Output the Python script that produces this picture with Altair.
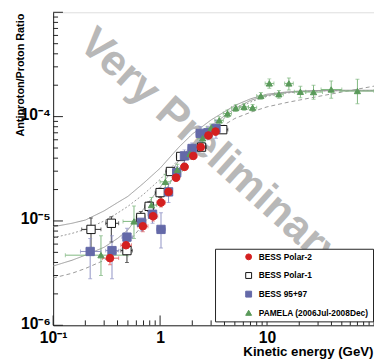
import altair as alt
import pandas as pd

# ---------------- data ----------------
series_names = ["BESS Polar-2", "BESS Polar-1", "BESS 95+97", "PAMELA (2006Jul-2008Dec)"]

p2_x = [0.34, 0.48, 0.69, 0.86, 1.02, 1.2, 1.41, 1.69, 2.04, 2.4, 2.83, 3.3]
p2_y = [4.4e-6, 5.85e-6, 8.9e-6, 1.11e-5, 1.5e-5, 1.9e-5, 2.6e-5, 3.3e-5, 4.2e-5, 5.1e-5, 6.6e-5, 7.2e-5]
p2_xlo = [0.29, 0.43, 0.62, 0.78, 0.93, 1.1, 1.3, 1.55, 1.87, 2.2, 2.6, 3.05]
p2_xhi = [0.41, 0.54, 0.77, 0.95, 1.12, 1.3, 1.53, 1.84, 2.22, 2.62, 3.07, 3.6]
p2_ylo = [3.8e-6, 5.1e-6, 7.9e-6, 1.0e-5, 1.36e-5, 1.74e-5, 2.4e-5, 3.05e-5, 3.9e-5, 4.75e-5, 6.1e-5, 6.6e-5]
p2_yhi = [5.1e-6, 6.7e-6, 1.0e-5, 1.23e-5, 1.65e-5, 2.07e-5, 2.82e-5, 3.57e-5, 4.5e-5, 5.5e-5, 7.1e-5, 7.8e-5]

p1_x = [0.226, 0.35, 0.49, 0.66, 0.79, 1.0, 1.25, 1.56, 2.44, 3.85]
p1_y = [8.3e-6, 9.5e-6, 5.2e-6, 1.08e-5, 1.38e-5, 1.87e-5, 2.98e-5, 4.15e-5, 5.1e-5, 7.5e-5]
p1_xlo = [0.185, 0.31, 0.43, 0.6, 0.72, 0.9, 1.13, 1.42, 2.2, 3.5]
p1_xhi = [0.28, 0.41, 0.55, 0.72, 0.87, 1.1, 1.38, 1.7, 2.7, 4.3]
p1_ylo = [5.4e-6, 6.3e-6, 4.0e-6, 9.4e-6, 1.23e-5, 1.68e-5, 2.75e-5, 3.85e-5, 4.8e-5, 7.1e-5]
p1_yhi = [1.07e-5, 1.1e-5, 5.9e-6, 1.23e-5, 1.53e-5, 2.06e-5, 3.2e-5, 4.45e-5, 5.4e-5, 7.9e-5]

b9_x = [0.222, 0.355, 0.49, 0.67, 0.85, 1.02, 1.2, 1.43, 1.69, 1.99, 2.37, 2.8, 3.33]
b9_y = [5.1e-6, 5.2e-6, 7.0e-6, 9.7e-6, 1.16e-5, 8.3e-6, 1.9e-5, 2.9e-5, 4.2e-5, 4.95e-5, 6.9e-5, 7.0e-5, 7.7e-5]
b9_xlo = [0.18, 0.31, 0.44, 0.6, 0.77, 0.93, 1.1, 1.3, 1.55, 1.82, 2.17, 2.56, 3.05]
b9_xhi = [0.28, 0.41, 0.55, 0.74, 0.93, 1.12, 1.3, 1.56, 1.85, 2.18, 2.6, 3.05, 3.65]
b9_ylo = [2.8e-6, 2.8e-6, 5.6e-6, 8.0e-6, 9.5e-6, 5.5e-6, 1.5e-5, 2.5e-5, 3.6e-5, 4.3e-5, 5.8e-5, 6.0e-5, 6.2e-5]
b9_yhi = [6.8e-6, 7.2e-6, 8.5e-6, 1.15e-5, 1.4e-5, 1.2e-5, 2.3e-5, 3.3e-5, 4.8e-5, 5.6e-5, 8.0e-5, 8.1e-5, 9.3e-5]

pm_x = [0.28, 0.57, 0.83, 1.12, 1.45, 1.9, 2.5, 3.0, 3.57, 4.27, 5.1, 6.1, 7.33, 8.75, 10.5, 12.9, 16.0, 20.5, 27.2, 39.8, 70.0]
pm_y = [4.7e-6, 9.9e-6, 1.42e-5, 2.37e-5, 3.1e-5, 4.4e-5, 6.2e-5, 7.8e-5, 9.2e-5, 1.07e-4, 1.21e-4, 1.24e-4, 1.22e-4, 1.58e-4, 2.08e-4, 1.64e-4, 2.08e-4, 1.73e-4, 1.72e-4, 1.82e-4, 1.76e-4]
pm_xlo = [0.13, 0.45, 0.74, 1.0, 1.3, 1.7, 2.25, 2.7, 3.25, 3.9, 4.65, 5.55, 6.7, 8.0, 9.6, 11.8, 14.6, 18.0, 23.0, 32.0, 48.0]
pm_xhi = [0.5, 0.71, 0.93, 1.25, 1.62, 2.12, 2.78, 3.3, 3.9, 4.65, 5.55, 6.7, 8.0, 9.6, 11.6, 14.2, 17.6, 23.0, 33.0, 50.0, 100.0]
pm_ylo = [3.0e-6, 6.8e-6, 1.2e-5, 2.0e-5, 2.7e-5, 3.9e-5, 5.6e-5, 7.1e-5, 8.4e-5, 9.8e-5, 1.12e-4, 1.15e-4, 1.13e-4, 1.47e-4, 1.87e-4, 1.5e-4, 1.8e-4, 1.52e-4, 1.47e-4, 1.5e-4, 1.33e-4]
pm_yhi = [7.2e-6, 1.39e-5, 1.68e-5, 2.8e-5, 3.5e-5, 4.9e-5, 6.8e-5, 8.5e-5, 1.0e-4, 1.16e-4, 1.3e-4, 1.33e-4, 1.31e-4, 1.7e-4, 2.3e-4, 1.78e-4, 2.35e-4, 1.95e-4, 2.0e-4, 2.2e-4, 2.28e-4]

# model curves (gray lines)
curve_x = [0.1, 0.15, 0.2, 0.3, 0.4, 0.5, 0.7, 1, 1.5, 2, 3, 5, 7, 10, 15, 20, 30, 50, 100]
curve_s1 = [8.8e-6, 9.5e-6, 1.02e-5, 1.25e-5, 1.5e-5, 1.72e-5, 2.3e-5, 3.2e-5, 5.1e-5, 6.8e-5, 9.3e-5, 1.28e-4, 1.48e-4, 1.64e-4, 1.72e-4, 1.76e-4, 1.78e-4, 1.79e-4, 1.79e-4]
curve_d1 = [6.9e-6, 7.6e-6, 8.3e-6, 1.0e-5, 1.19e-5, 1.38e-5, 1.8e-5, 2.5e-5, 3.9e-5, 5.3e-5, 7.8e-5, 1.15e-4, 1.38e-4, 1.57e-4, 1.68e-4, 1.73e-4, 1.76e-4, 1.78e-4, 1.78e-4]
curve_s2 = [3.7e-6, 4.2e-6, 4.7e-6, 5.6e-6, 6.8e-6, 8.2e-6, 1.3e-5, 2.1e-5, 3.8e-5, 5.4e-5, 8.2e-5, 1.2e-4, 1.43e-4, 1.6e-4, 1.7e-4, 1.74e-4, 1.77e-4, 1.77e-4, 1.76e-4]
curve_d2 = [2.84e-6, 3.15e-6, 3.5e-6, 4.2e-6, 5.1e-6, 6.2e-6, 9.3e-6, 1.6e-5, 3.2e-5, 4.6e-5, 7.0e-5, 9.6e-5, 1.1e-4, 1.24e-4, 1.36e-4, 1.44e-4, 1.56e-4, 1.72e-4, 1.96e-4]
curve_names = ["s1", "d1", "s2", "d2"]

x_major = [0.1, 1, 10, 100]
x_minor = [0.2, 0.3, 0.4, 0.5, 0.6, 0.7, 0.8, 0.9, 2, 3, 4, 5, 6, 7, 8, 9, 20, 30, 40, 50, 60, 70, 80, 90]
y_major = [1e-6, 1e-5, 1e-4, 1e-3]
y_minor = [2e-6, 3e-6, 4e-6, 5e-6, 6e-6, 7e-6, 8e-6, 9e-6,
           2e-5, 3e-5, 4e-5, 5e-5, 6e-5, 7e-5, 8e-5, 9e-5,
           2e-4, 3e-4, 4e-4, 5e-4, 6e-4, 7e-4, 8e-4, 9e-4]

watermark_text = ["Very Preliminary"]
watermark_x = [3.0]
watermark_y = [4.8e-5]

# ---------------- styles ----------------
err_colors = {"BESS Polar-2": "#e06060", "BESS Polar-1": "#333333",
              "BESS 95+97": "#8f92c4", "PAMELA (2006Jul-2008Dec)": "#80b880"}
marker_sizes = {"BESS Polar-2": 60, "BESS Polar-1": 72,
                "BESS 95+97": 72, "PAMELA (2006Jul-2008Dec)": 40}
fill_colors = ["#d42020", "#ffffff", "#6469a8", "#5a9a5a"]
stroke_colors = ["#d42020", "#111111", "#6469a8", "#5a9a5a"]
shapes = ["circle", "square", "square", "triangle-up"]

# ---------------- build tables ----------------
draw_order = [series_names[1], series_names[2], series_names[3], series_names[0]]
rows = []
for name, xs_, ys_, xl, xh, yl, yh in [
    (series_names[1], p1_x, p1_y, p1_xlo, p1_xhi, p1_ylo, p1_yhi),
    (series_names[2], b9_x, b9_y, b9_xlo, b9_xhi, b9_ylo, b9_yhi),
    (series_names[3], pm_x, pm_y, pm_xlo, pm_xhi, pm_ylo, pm_yhi),
    (series_names[0], p2_x, p2_y, p2_xlo, p2_xhi, p2_ylo, p2_yhi),
]:
    for i in range(len(xs_)):
        rows.append(dict(series=name, x=xs_[i], y=ys_[i], xlo=xl[i], xhi=xh[i], ylo=yl[i], yhi=yh[i],
                         ecol=err_colors[name], sz=marker_sizes[name],
                         order=draw_order.index(name)))
pts = pd.DataFrame(rows)

crows = []
for name, yv_list in zip(curve_names, [curve_s1, curve_d1, curve_s2, curve_d2]):
    for xv, yv in zip(curve_x, yv_list):
        crows.append(dict(curve=name, x=xv, y=yv))
curves = pd.DataFrame(crows)

W, H = 327, 319
FONT = "Liberation Sans"
xs = alt.Scale(type="log", domain=[0.1, 100], nice=False)
ys = alt.Scale(type="log", domain=[1e-6, 1e-3], nice=False)

x_axis = alt.Axis(values=[0.1, 1, 10], ticks=False, grid=False, domainColor="#222",
                  labelExpr="datum.value < 0.5 ? '10⁻¹' : (datum.value < 5 ? '1' : '10')",
                  labelFont=FONT, labelFontSize=16, labelFontWeight="bold", labelColor="black",
                  labelPadding=5, labelOverlap=False, labelFlush=False, labelBound=False,
                  title="Kinetic energy (GeV)", titleFont=FONT, titleFontSize=13.5,
                  titleFontWeight="bold", titleColor="black", titleAnchor="end",
                  titleAlign="right", titleX=W - 1, titleY=31, titleBaseline="alphabetic")
y_axis = alt.Axis(values=[1e-6, 1e-5, 1e-4], ticks=False, grid=False, domainColor="#222",
                  labelExpr="datum.value < 5e-6 ? '10⁻⁶' : (datum.value < 5e-5 ? '10⁻⁵' : '10⁻⁴')",
                  labelFont=FONT, labelFontSize=16, labelFontWeight="bold", labelColor="black",
                  labelPadding=3, labelOffset=-2, labelOverlap=False, labelFlush=False, labelBound=False,
                  title="Antiproton/Proton Ratio", titleFont=FONT, titleFontSize=11,
                  titleFontWeight="bold", titleColor="black", titleAngle=270,
                  titleAlign="right", titleBaseline="middle", titleX=-33, titleY=1)


def X(field):
    return alt.X(f"{field}:Q", scale=xs, axis=x_axis, title="Kinetic energy (GeV)")


def Y(field):
    return alt.Y(f"{field}:Q", scale=ys, axis=y_axis, title="Antiproton/Proton Ratio")


curve_layer = alt.Chart(curves).mark_line(color="#999999", strokeWidth=1, clip=True).encode(
    x=X("x"), y=Y("y"),
    detail="curve:N",
    strokeDash=alt.StrokeDash("curve:N", scale=alt.Scale(domain=curve_names,
                              range=[[1, 0], [2, 2], [1, 0], [4, 3]]), legend=None),
)

wm = alt.Chart(pd.DataFrame({"t": watermark_text, "x": watermark_x, "y": watermark_y})).mark_text(
    font=FONT, fontSize=44, fontWeight="bold", color="#b8b8b8", angle=42,
    align="center", baseline="middle").encode(x=X("x"), y=Y("y"), text="t:N")

ecol = alt.Color("ecol:N", scale=None)

hbar = alt.Chart(pts).mark_rule(strokeWidth=1, clip=True).encode(
    x=X("xlo"), x2="xhi:Q", y=Y("y"), color=ecol)
vbar = alt.Chart(pts).mark_rule(strokeWidth=1, clip=True).encode(
    x=X("x"), y=Y("ylo"), y2="yhi:Q", color=ecol)


def cap(xf, yf, orient):
    return alt.Chart(pts).mark_tick(orient=orient, size=4, thickness=1, clip=True).encode(
        x=X(xf), y=Y(yf), color=ecol)


caps = [cap("x", "ylo", "horizontal"), cap("x", "yhi", "horizontal"),
        cap("xlo", "y", "vertical"), cap("xhi", "y", "vertical")]

legend = alt.Legend(title=None, orient="none", legendX=165, legendY=241,
                    fillColor="white", strokeColor="#222", padding=4,
                    labelFont=FONT, labelFontSize=8.5, labelFontWeight="bold", labelColor="black",
                    symbolSize=36, symbolStrokeWidth=1, symbolOffset=26, labelOffset=6,
                    rowPadding=8, cornerRadius=0)

points = alt.Chart(pts).mark_point(filled=True, opacity=1, strokeWidth=1, clip=True).encode(
    x=X("x"), y=Y("y"),
    shape=alt.Shape("series:N", scale=alt.Scale(domain=series_names, range=shapes), legend=legend),
    fill=alt.Fill("series:N", scale=alt.Scale(domain=series_names, range=fill_colors), legend=legend),
    stroke=alt.Stroke("series:N", scale=alt.Scale(domain=series_names, range=stroke_colors), legend=legend),
    size=alt.Size("sz:Q", scale=None),
    order=alt.Order("order:Q"),
)


def tick_layer(vals, axis, length):
    df = pd.DataFrame({"v": vals})
    if axis == "x":
        return alt.Chart(df).mark_rule(color="#222", strokeWidth=1).encode(
            x=X("v"), y=alt.value(H), y2=alt.value(H - length))
    return alt.Chart(df).mark_rule(color="#222", strokeWidth=1).encode(
        y=Y("v"), x=alt.value(0), x2=alt.value(length))


ticks = [tick_layer(x_major, "x", 10), tick_layer(x_minor, "x", 5),
         tick_layer(y_major, "y", 10), tick_layer(y_minor, "y", 5)]

chart = alt.layer(curve_layer, wm, hbar, vbar, *caps, points, *ticks).properties(
    width=W, height=H,
    autosize=alt.AutoSizeParams(type="none"),
    padding={"left": 46, "top": 1, "right": 0, "bottom": 32},
).configure_view(stroke="#222", strokeWidth=1).configure(background="white")

chart.save("out.html", embed_options={"renderer": "svg", "actions": False})
